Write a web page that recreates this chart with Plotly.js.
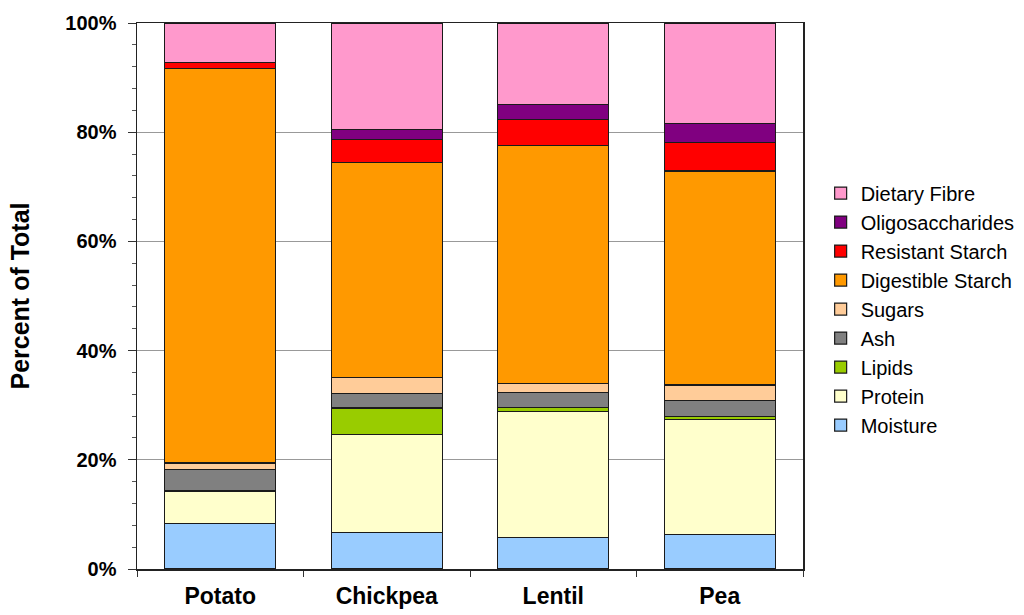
<!DOCTYPE html>
<html>
<head>
<meta charset="utf-8">
<script src="https://cdn.plot.ly/plotly-3.0.1.min.js"></script>
<style>html,body{margin:0;padding:0;background:#fff;}#chart{width:1024px;height:615px;}</style>
</head>
<body>
<div id="chart"></div>
<script>
const categories = ['Potato', 'Chickpea', 'Lentil', 'Pea'];
const moisture = [8.3, 6.7, 5.7, 6.3];
const protein = [5.9, 18.0, 23.1, 21.1];
const lipids = [0.2, 4.8, 0.8, 0.6];
const ash = [3.8, 2.6, 2.7, 2.8];
const sugars = [1.2, 3.0, 1.7, 2.9];
const digestibleStarch = [72.3, 39.3, 43.5, 39.2];
const resistantStarch = [1.0, 4.3, 4.9, 5.2];
const oligosaccharides = [0.1, 1.8, 2.7, 3.5];
const dietaryFibre = [7.2, 19.5, 14.9, 18.4];
const tickVals = [0, 20, 40, 60, 80, 100];
const tickText = ['0%', '20%', '40%', '60%', '80%', '100%'];

const series = [
  ['Moisture', moisture, '#99CCFF'],
  ['Protein', protein, '#FFFFCC'],
  ['Lipids', lipids, '#99CC00'],
  ['Ash', ash, '#808080'],
  ['Sugars', sugars, '#FFCC99'],
  ['Digestible Starch', digestibleStarch, '#FF9900'],
  ['Resistant Starch', resistantStarch, '#FF0000'],
  ['Oligosaccharides', oligosaccharides, '#800080'],
  ['Dietary Fibre', dietaryFibre, '#FF99CC']
];

const traces = series.map(([name, vals, color]) => ({
  type: 'bar',
  name: name,
  x: categories,
  y: vals,
  legendgroup: name,
  marker: {color: color, line: {color: '#1a1a1a', width: 1.2}},
  hoverinfo: 'name+y'
}));

const layout = {
  width: 1024,
  height: 615,
  margin: {l: 137, r: 221, t: 23, b: 46, pad: 0, autoexpand: false},
  paper_bgcolor: '#ffffff',
  plot_bgcolor: '#ffffff',
  barmode: 'stack',
  bargap: 0.335,
  font: {family: 'Liberation Sans, Arial, sans-serif', color: '#000000'},
  showlegend: true,
  legend: {
    x: 1.0265, xanchor: 'left',
    y: 0.476, yanchor: 'middle',
    traceorder: 'reversed',
    tracegroupgap: 4.5,
    font: {size: 20, color: '#000000'},
    bgcolor: 'rgba(0,0,0,0)'
  },
  xaxis: {
    type: 'category',
    tickson: 'boundaries',
    ticks: 'outside',
    ticklen: 6,
    tickcolor: '#333333',
    ticklabelstandoff: 6,
    showline: true,
    linecolor: '#222222',
    linewidth: 1.5,
    mirror: true,
    showgrid: false,
    tickfont: {size: 23, family: 'Liberation Sans, Arial, sans-serif', weight: 'bold'}
  },
  yaxis: {
    range: [0, 100],
    tickvals: tickVals,
    ticktext: tickText,
    ticks: 'outside',
    ticklen: 8,
    tickcolor: '#333333',
    ticklabelstandoff: 7,
    showline: true,
    linecolor: '#222222',
    linewidth: 1.5,
    mirror: true,
    showgrid: true,
    gridcolor: '#999999',
    gridwidth: 1.2,
    zeroline: false,
    minor: {dtick: 4, ticks: 'outside', ticklen: 4, tickcolor: '#555555', showgrid: false},
    tickfont: {size: 20, family: 'Liberation Sans, Arial, sans-serif', weight: 'bold'},
    title: {text: 'Percent of Total', font: {size: 25, weight: 'bold'}, standoff: 28}
  }
};

Plotly.newPlot('chart', traces, layout, {displayModeBar: false, staticPlot: true});
</script>
</body>
</html>
